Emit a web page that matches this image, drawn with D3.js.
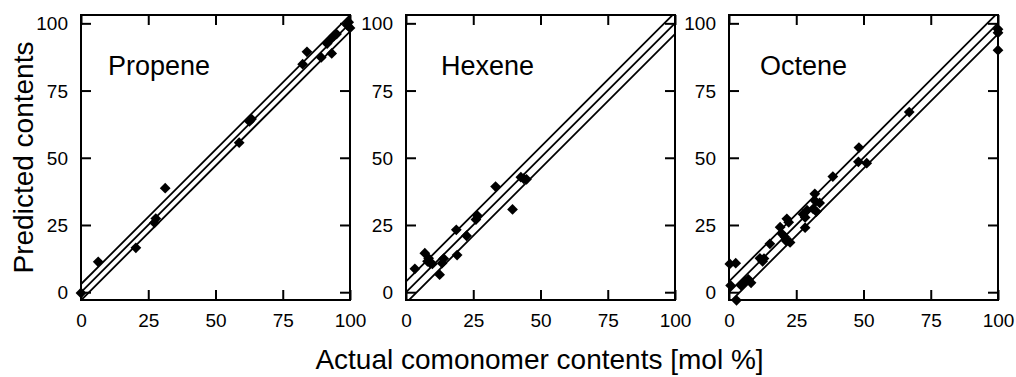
<!DOCTYPE html>
<html>
<head>
<meta charset="utf-8">
<script src="https://cdn.jsdelivr.net/npm/d3@7"></script>
<style>
  body { margin: 0; background: #fff; }
  svg { display: block; font-family: "Liberation Sans", Arial, sans-serif; }
  .axis text { font-size: 19px; fill: #000; }
  .axis line { stroke: #000; stroke-width: 2px; }
</style>
</head>
<body>
<div id="chart"></div>
<script>
// data: [actual, predicted]
const propene = [
  [0, -0.3], [6.4, 11.3], [20.4, 16.5], [27.3, 25.8], [27.8, 27.4], [31.3, 38.7],
  [58.8, 55.6], [62.6, 63.5], [63.4, 64.4], [82.4, 84.8], [84, 89.4], [89.3, 87.3],
  [93.2, 88.8], [91.5, 92.5], [92.8, 94], [94, 95.3], [95, 96], [99.5, 100.4],
  [100, 98.3], [99, 99.3]
];
const hexene = [
  [3.3, 8.7], [7, 14.5], [8.4, 12.6], [9, 10.8], [8, 11.5], [9.8, 10.5], [12.5, 6.5],
  [14, 12.5], [13.4, 10.8], [18.7, 23.2], [19, 13.8], [22.5, 21], [26, 27], [26.5, 28.5],
  [33.3, 39.3], [39.6, 30.8], [42.7, 42.8], [43.8, 42.2], [44.8, 42]
];
const octene = [
  [0.3, 10.5], [2.5, 10.8], [0.6, 2.5], [2.8, -3], [4.5, 2.5], [6, 4], [7.2, 4.8],
  [8.2, 3.5], [11.5, 12.6], [12.5, 11.5], [13, 12.5], [15.2, 18], [19, 24.2],
  [19.6, 21.8], [20.8, 20.5], [21.5, 27.3], [22.2, 26], [22.7, 18.5], [21.3, 19],
  [27.5, 29], [28.3, 27.8], [28.3, 24], [29, 30.5], [31.3, 31], [31.9, 36.6], [32, 34],
  [32.5, 30], [33.7, 33.2], [38.6, 43], [48.3, 53.8], [48.1, 48.5], [51.2, 48],
  [67, 67], [100, 97.8], [100, 96.5], [100, 90]
];
const panelNames = ['Propene', 'Hexene', 'Octene'];
const panelData = [propene, hexene, octene];
const bandOffsets = [3, 4, 4];   // +/- band around y = x
const tickValues = [0, 25, 50, 75, 100];
const xTitle = 'Actual comonomer contents [mol %]';
const yTitle = 'Predicted contents';

const W = 1016, H = 377;
const panelLeft = [81, 406, 729];
const panelW = 269;
const plotTop = 15, plotBottom = 300;

const svg = d3.select('#chart').append('svg')
  .attr('width', W)
  .attr('height', H);

const y = d3.scaleLinear().domain([-2.9, 103.1]).range([plotBottom, plotTop]);

panelNames.forEach((name, i) => {
  const x = d3.scaleLinear().domain([0, 100]).range([0, panelW]);
  const g = svg.append('g')
    .attr('transform', `translate(${panelLeft[i]},0)`);

  const clipId = 'clip' + i;
  g.append('clipPath').attr('id', clipId)
    .append('rect')
    .attr('x', 0).attr('y', plotTop)
    .attr('width', panelW).attr('height', plotBottom - plotTop);

  // axes, ticks pointing inward
  const left = g.append('g').attr('class', 'axis')
    .call(d3.axisLeft(y).tickValues(tickValues).tickSize(-10).tickPadding(13));
  const right = g.append('g').attr('class', 'axis')
    .attr('transform', `translate(${panelW},0)`)
    .call(d3.axisRight(y).tickValues(tickValues).tickSize(-10).tickFormat(''));
  const bot = g.append('g').attr('class', 'axis')
    .attr('transform', `translate(0,${plotBottom})`)
    .call(d3.axisBottom(x).tickValues(tickValues).tickSize(-10).tickPadding(13.5));
  const topAx = g.append('g').attr('class', 'axis')
    .attr('transform', `translate(0,${plotTop})`)
    .call(d3.axisTop(x).tickValues(tickValues).tickSize(-10).tickFormat(''));
  [left, right, bot, topAx].forEach(a => a.select('.domain').remove());
  left.selectAll('text').attr('dy', '0.34em');

  // y = x and its band
  const line = d3.line().x(d => x(d[0])).y(d => y(d[1]));
  const plot = g.append('g').attr('clip-path', `url(#${clipId})`);
  [-bandOffsets[i], 0, bandOffsets[i]].forEach(c => {
    plot.append('path')
      .datum([[-10, -10 + c], [110, 110 + c]])
      .attr('d', line)
      .attr('fill', 'none')
      .attr('stroke', '#000')
      .attr('stroke-width', 1.8);
  });

  // frame
  g.append('rect')
    .attr('x', 0).attr('y', plotTop)
    .attr('width', panelW).attr('height', plotBottom - plotTop)
    .attr('fill', 'none')
    .attr('stroke', '#000')
    .attr('stroke-width', 2);

  // points
  g.append('g').selectAll('path')
    .data(panelData[i])
    .join('path')
    .attr('d', d3.symbol(d3.symbolSquare, 58))
    .attr('transform', d => `translate(${x(d[0])},${y(d[1])}) rotate(45)`)
    .attr('fill', '#000');

  g.append('text')
    .attr('x', x([10, 13, 11.5][i]))
    .attr('y', y(80.6))
    .attr('font-size', 27)
    .text(name);
});

svg.append('text')
  .attr('x', 539.5)
  .attr('y', 369)
  .attr('text-anchor', 'middle')
  .attr('font-size', 28)
  .text(xTitle);

svg.append('text')
  .attr('transform', `translate(33,${(plotTop + plotBottom) / 2}) rotate(-90)`)
  .attr('text-anchor', 'middle')
  .attr('font-size', 28)
  .text(yTitle);
</script>
</body>
</html>
